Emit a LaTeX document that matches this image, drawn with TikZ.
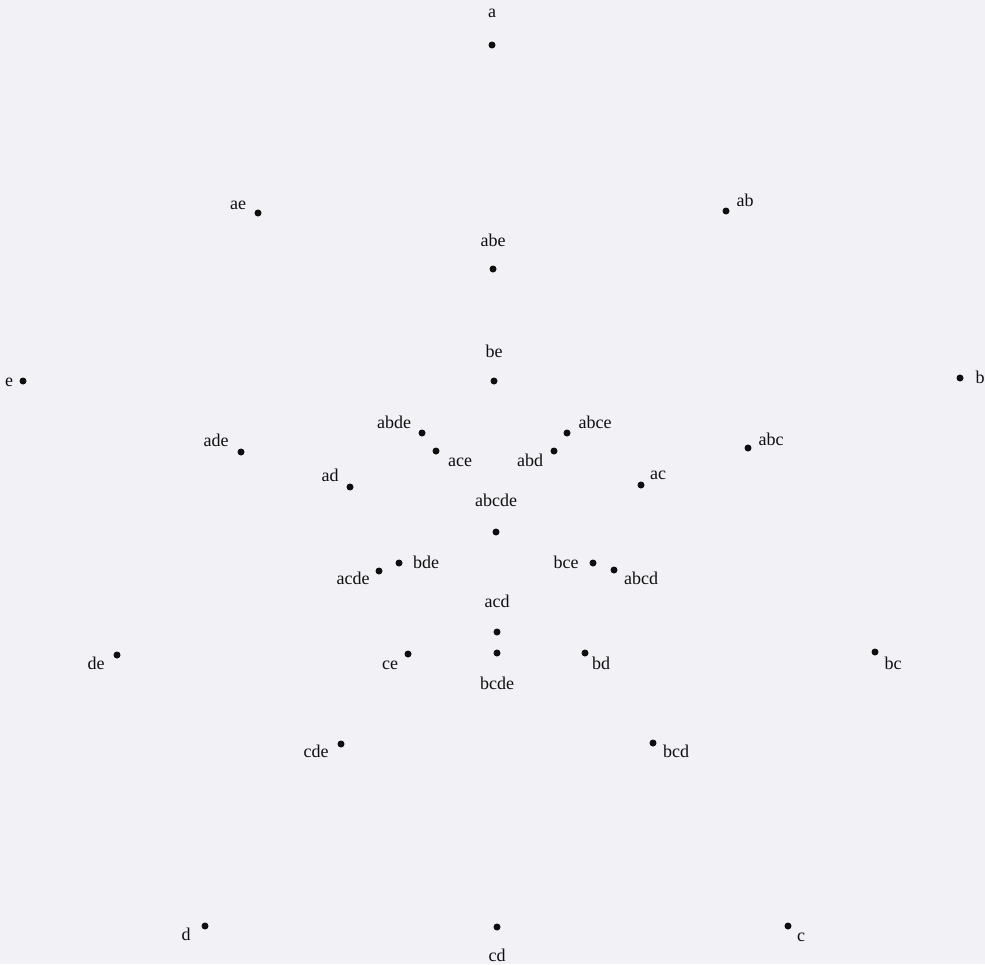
\documentclass[tikz,border=0pt]{standalone}
\usepackage{fontspec}
\setmainfont{Liberation Serif}
\definecolor{bgc}{RGB}{241,241,246}
\definecolor{ink}{RGB}{15,15,15}
\begin{document}
\begin{tikzpicture}[x=1pt,y=-1pt,
  dot/.style={circle,fill=ink,inner sep=0pt,minimum size=7pt},
  lbl/.style={anchor=base,inner sep=0pt,text=ink,font=\fontsize{18}{18}\selectfont}]
\fill[bgc] (0,0) rectangle (985,964);
\useasboundingbox (0,0) rectangle (985,964);
% dots
\node[dot] (a) at (492,45) {};
\node[dot] (ae) at (258,213) {};
\node[dot] (ab) at (726,211) {};
\node[dot] (abe) at (493,269) {};
\node[dot] (be) at (494,381) {};
\node[dot] (e) at (23,381) {};
\node[dot] (b) at (960,378) {};
\node[dot] (abde) at (422,433) {};
\node[dot] (abce) at (567,433) {};
\node[dot] (ace) at (436,451) {};
\node[dot] (abd) at (554,451) {};
\node[dot] (ade) at (241,452) {};
\node[dot] (abc) at (748,448) {};
\node[dot] (ad) at (350,487) {};
\node[dot] (ac) at (641,485) {};
\node[dot] (abcde) at (496,532) {};
\node[dot] (bde) at (399,563) {};
\node[dot] (acde) at (379,571) {};
\node[dot] (bce) at (593,563) {};
\node[dot] (abcd) at (614,570) {};
\node[dot] (acd) at (497,632) {};
\node[dot] (bcde) at (497,653) {};
\node[dot] (ce) at (408,654) {};
\node[dot] (bd) at (585,653) {};
\node[dot] (de) at (117,655) {};
\node[dot] (bc) at (875,652) {};
\node[dot] (cde) at (341,744) {};
\node[dot] (bcd) at (653,743) {};
\node[dot] (d) at (205,926) {};
\node[dot] (cd) at (497,927) {};
\node[dot] (c) at (788,926) {};
% labels
\node[lbl] (la) at (492,17) {a};
\node[lbl] (lae) at (238,209) {ae};
\node[lbl] (lab) at (745,206) {ab};
\node[lbl] (labe) at (493,246) {abe};
\node[lbl] (lbe) at (494,357) {be};
\node[lbl] (le) at (9,386) {e};
\node[lbl] (lb) at (980,383) {b};
\node[lbl] (labde) at (394,428) {abde};
\node[lbl] (labce) at (595,428) {abce};
\node[lbl] (lace) at (460,466) {ace};
\node[lbl] (labd) at (530,466) {abd};
\node[lbl] (lade) at (216,446) {ade};
\node[lbl] (labc) at (771,445) {abc};
\node[lbl] (lad) at (330,481) {ad};
\node[lbl] (lac) at (658,479) {ac};
\node[lbl] (labcde) at (496,506) {abcde};
\node[lbl] (lbde) at (426,568) {bde};
\node[lbl] (lacde) at (353,584) {acde};
\node[lbl] (lbce) at (566,568) {bce};
\node[lbl] (labcd) at (641,584) {abcd};
\node[lbl] (lacd) at (497,607) {acd};
\node[lbl] (lbcde) at (497,689) {bcde};
\node[lbl] (lce) at (390,669) {ce};
\node[lbl] (lbd) at (601,669) {bd};
\node[lbl] (lde) at (96,669) {de};
\node[lbl] (lbc) at (893,669) {bc};
\node[lbl] (lcde) at (316,757) {cde};
\node[lbl] (lbcd) at (676,757) {bcd};
\node[lbl] (ld) at (186,940) {d};
\node[lbl] (lcd) at (497,961) {cd};
\node[lbl] (lc) at (801,941) {c};
\end{tikzpicture}
\end{document}
